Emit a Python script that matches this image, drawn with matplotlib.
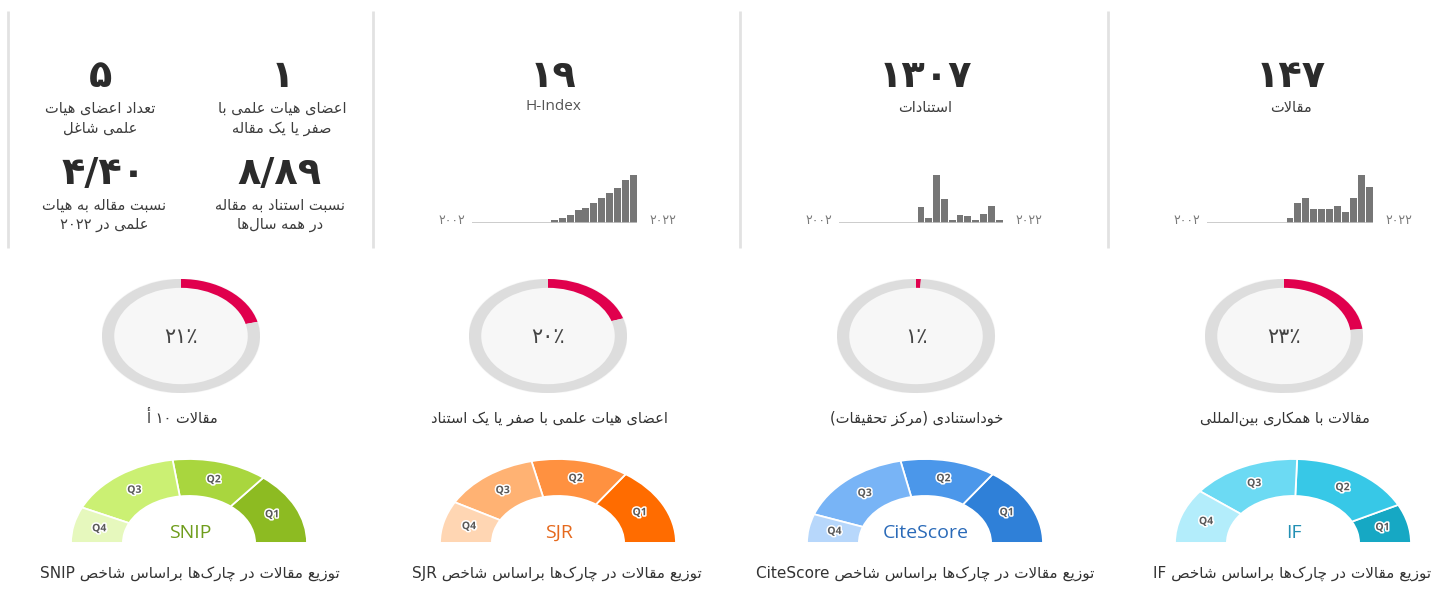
import matplotlib
matplotlib.use('Agg')
import matplotlib.pyplot as plt
import matplotlib.patheffects as pe
from matplotlib.patches import Ellipse
import numpy as np

W, H = 1455, 596
DPI = 100

# ---------------- data ----------------
years = list(range(2002, 2023))
articles_per_year = [0] * 10 + [3, 13, 16, 9, 9, 9, 11, 7, 16, 31, 23]
citations_per_year = [0] * 10 + [146, 46, 441, 222, 30, 76, 61, 24, 85, 152, 24]
hindex_per_year = [0] * 10 + [1, 2, 3, 5, 6, 8, 10, 12, 14, 17, 19]

kpi_values = [19, 1307, 147]
kpi_labels = ['H-Index', 'استنادات', 'مقالات']

faculty_values = [5, 1, 4.40, 8.89]
faculty_labels = ['تعداد اعضای هیات\nعلمی شاغل',
                  'اعضای هیات علمی با\nصفر یا یک مقاله',
                  'نسبت مقاله به هیات\nعلمی در ۲۰۲۲',
                  'نسبت استناد به مقاله\nدر همه سال‌ها']

donut_pcts = [21, 20, 1, 23]
donut_labels = ['مقالات ۱۰ أ',
                'اعضای هیات علمی با صفر یا یک استناد',
                'خوداستنادی (مرکز تحقیقات)',
                'مقالات با همکاری بین‌المللی']

quartile_names = ['Q1', 'Q2', 'Q3', 'Q4']
snip_q = [51, 47, 57, 25]
sjr_q = [55, 48, 48, 29]
citescore_q = [55, 47, 58, 20]
if_q = [27, 61, 54, 38]
index_names = ['SNIP', 'SJR', 'CiteScore', 'IF']
dist_title = 'توزیع مقالات در چارک‌ها براساس شاخص '

# ---------------- Persian shaping / bidi ----------------
FORMS = {
    'ء': ('\uFE80', None, None, None),
    'آ': ('\uFE81', '\uFE82', None, None),
    'أ': ('\uFE83', '\uFE84', None, None),
    'ؤ': ('\uFE85', '\uFE86', None, None),
    'إ': ('\uFE87', '\uFE88', None, None),
    'ئ': ('\uFE89', '\uFE8A', '\uFE8B', '\uFE8C'),
    'ا': ('\uFE8D', '\uFE8E', None, None),
    'ب': ('\uFE8F', '\uFE90', '\uFE91', '\uFE92'),
    'ة': ('\uFE93', '\uFE94', None, None),
    'ت': ('\uFE95', '\uFE96', '\uFE97', '\uFE98'),
    'ث': ('\uFE99', '\uFE9A', '\uFE9B', '\uFE9C'),
    'ج': ('\uFE9D', '\uFE9E', '\uFE9F', '\uFEA0'),
    'ح': ('\uFEA1', '\uFEA2', '\uFEA3', '\uFEA4'),
    'خ': ('\uFEA5', '\uFEA6', '\uFEA7', '\uFEA8'),
    'د': ('\uFEA9', '\uFEAA', None, None),
    'ذ': ('\uFEAB', '\uFEAC', None, None),
    'ر': ('\uFEAD', '\uFEAE', None, None),
    'ز': ('\uFEAF', '\uFEB0', None, None),
    'س': ('\uFEB1', '\uFEB2', '\uFEB3', '\uFEB4'),
    'ش': ('\uFEB5', '\uFEB6', '\uFEB7', '\uFEB8'),
    'ص': ('\uFEB9', '\uFEBA', '\uFEBB', '\uFEBC'),
    'ض': ('\uFEBD', '\uFEBE', '\uFEBF', '\uFEC0'),
    'ط': ('\uFEC1', '\uFEC2', '\uFEC3', '\uFEC4'),
    'ظ': ('\uFEC5', '\uFEC6', '\uFEC7', '\uFEC8'),
    'ع': ('\uFEC9', '\uFECA', '\uFECB', '\uFECC'),
    'غ': ('\uFECD', '\uFECE', '\uFECF', '\uFED0'),
    'ف': ('\uFED1', '\uFED2', '\uFED3', '\uFED4'),
    'ق': ('\uFED5', '\uFED6', '\uFED7', '\uFED8'),
    'ك': ('\uFED9', '\uFEDA', '\uFEDB', '\uFEDC'),
    'ل': ('\uFEDD', '\uFEDE', '\uFEDF', '\uFEE0'),
    'م': ('\uFEE1', '\uFEE2', '\uFEE3', '\uFEE4'),
    'ن': ('\uFEE5', '\uFEE6', '\uFEE7', '\uFEE8'),
    'ه': ('\uFEE9', '\uFEEA', '\uFEEB', '\uFEEC'),
    'و': ('\uFEED', '\uFEEE', None, None),
    'ى': ('\uFEEF', '\uFEF0', None, None),
    'ي': ('\uFEF1', '\uFEF2', '\uFEF3', '\uFEF4'),
    'پ': ('\uFB56', '\uFB57', '\uFB58', '\uFB59'),
    'چ': ('\uFB7A', '\uFB7B', '\uFB7C', '\uFB7D'),
    'ژ': ('\uFB8A', '\uFB8B', None, None),
    'ک': ('\uFB8E', '\uFB8F', '\uFB90', '\uFB91'),
    'گ': ('\uFB92', '\uFB93', '\uFB94', '\uFB95'),
    'ی': ('\uFBFC', '\uFBFD', '\uFBFE', '\uFBFF'),
}
LAM_ALEF = {'آ': ('\uFEF5', '\uFEF6'), 'أ': ('\uFEF7', '\uFEF8'),
            'إ': ('\uFEF9', '\uFEFA'), 'ا': ('\uFEFB', '\uFEFC')}
MIRROR = {'(': ')', ')': '('}
FA_DIGITS = str.maketrans('0123456789.', '۰۱۲۳۴۵۶۷۸۹/')


def _dual(c):
    return c in FORMS and FORMS[c][2] is not None


def _shape(s):
    out = []
    i, n = 0, len(s)
    while i < n:
        c = s[i]
        if c not in FORMS:
            if c != '\u200c':
                out.append(c)
            i += 1
            continue
        jp = i > 0 and _dual(s[i - 1])
        if c == 'ل' and i + 1 < n and s[i + 1] in LAM_ALEF:
            iso, fin = LAM_ALEF[s[i + 1]]
            out.append(fin if jp else iso)
            i += 2
            continue
        jn = _dual(c) and i + 1 < n and s[i + 1] in FORMS
        iso, fin, ini, med = FORMS[c]
        out.append(med if (jp and jn) else fin if jp else ini if jn else iso)
        i += 1
    return ''.join(out)


def _is_ltr(ch):
    return (ch.isascii() and ch.isalnum()) or ('\u06F0' <= ch <= '\u06F9') or ch in '٫٪/'


def fa(line):
    if not any(c in FORMS for c in line):
        return line
    s = _shape(line)
    toks, cur, cur_ltr = [], '', None
    for ch in s:
        l = _is_ltr(ch)
        if cur and l != cur_ltr:
            toks.append((cur, cur_ltr))
            cur = ''
        cur += ch
        cur_ltr = l
    if cur:
        toks.append((cur, cur_ltr))
    vis = ''
    for tok, l in reversed(toks):
        vis += tok if l else ''.join(MIRROR.get(c, c) for c in reversed(tok))
    return vis


def fa_num(v):
    return str(v).translate(FA_DIGITS)


FA_FONT = ['DejaVu Sans']
LAT_FONT = ['Open Sans', 'DejaVu Sans']
NUM_SIZE = 27.5
LAB_SIZE = 10.5

# ---------------- figure ----------------
fig = plt.figure(figsize=(W / DPI, H / DPI), dpi=DPI)
fig.patch.set_facecolor('white')
bg = fig.add_axes([0, 0, 1, 1])
bg.set_xlim(0, W)
bg.set_ylim(H, 0)
bg.axis('off')
bg.set_zorder(5)
bg.patch.set_alpha(0)


def px_axes(x0, y0, x1, y1):
    return fig.add_axes([x0 / W, 1 - y1 / H, (x1 - x0) / W, (y1 - y0) / H])


def lines_text(x, y, text, dy, **kw):
    for k, ln in enumerate(text.split('\n')):
        bg.text(x, y + k * dy, fa(ln), ha='center', va='center', **kw)


# panel separators
for xs in [8, 373, 740, 1108]:
    bg.plot([xs, xs], [11, 248], color='#e2e2e2', lw=2, solid_capstyle='butt')

# ---------------- top-left faculty block ----------------
fac_pos = [(100, 77), (282, 77), (104, 174), (280, 174)]
for (x, y), v, lab in zip(fac_pos, faculty_values, faculty_labels):
    txt = fa_num(f'{v:.2f}') if isinstance(v, float) else fa_num(v)
    bg.text(x, y, txt, ha='center', va='center', fontsize=NUM_SIZE, fontweight='bold',
            color='#2b2b2b', family=FA_FONT)
    lines_text(x, y + 31, lab, 20, fontsize=LAB_SIZE, color='#3d3d3d', family=FA_FONT)

# ---------------- KPI + sparklines ----------------
kpi_cx = [553, 925, 1291]
spark_x = [(472, 637), (839, 1003), (1207, 1373)]
spark_data = [hindex_per_year, citations_per_year, articles_per_year]
for cx, v, lab, (x0, x1), data in zip(kpi_cx, kpi_values, kpi_labels, spark_x, spark_data):
    bg.text(cx, 77, fa_num(v), ha='center', va='center', fontsize=NUM_SIZE,
            fontweight='bold', color='#2b2b2b', family=FA_FONT)
    if lab.isascii():
        bg.text(cx, 107, lab, ha='center', va='center', fontsize=11,
                color='#555555', family=LAT_FONT)
    else:
        bg.text(cx, 108, fa(lab), ha='center', va='center', fontsize=LAB_SIZE,
                color='#3d3d3d', family=FA_FONT)
    ax = px_axes(x0, 175, x1, 223)
    ax.bar(years, data, width=0.88, color='#767676')
    ax.set_xlim(years[0] - 0.5, years[-1] + 0.5)
    ax.set_ylim(0, max(data))
    ax.axhline(0, color='#c4c4c4', lw=1.2)
    ax.axis('off')
    bg.text(x0 - 20, 220, fa_num(years[0]), ha='center', va='center',
            fontsize=9, color='#7a7a7a', family=FA_FONT)
    bg.text(x1 + 26, 220, fa_num(years[-1]), ha='center', va='center',
            fontsize=9, color='#7a7a7a', family=FA_FONT)

# ---------------- donuts ----------------
donut_cx = [181, 548, 916, 1284]
dcy, drx, dry = 336, 79, 57
for cx, p, lab in zip(donut_cx, donut_pcts, donut_labels):
    ax = px_axes(cx - drx, dcy - dry, cx + drx, dcy + dry)
    ax.add_patch(Ellipse((0, 0), 2, 2, color='#f7f7f7', zorder=0))
    ax.pie([p, 100 - p], colors=['#e0004d', '#dddddd'], startangle=90,
           counterclock=False, radius=1, wedgeprops=dict(width=0.155, linewidth=0))
    ax.set_aspect('auto')
    ax.set_xlim(-1, 1)
    ax.set_ylim(-1, 1)
    ax.axis('off')
    bg.text(cx, dcy + 1, fa_num(p) + '٪', ha='center', va='center', fontsize=15,
            color='#444444', family=FA_FONT)
    bg.text(cx + 1, 418, fa(lab), ha='center', va='center', fontsize=LAB_SIZE,
            color='#333333', family=FA_FONT)

# ---------------- half donuts ----------------
half_cx = [189, 558, 925, 1293]
hcy, hrx, hry = 543, 118, 84
q_data = [snip_q, sjr_q, citescore_q, if_q]
q_colors = [
    ['#8dbb22', '#a9d63e', '#cbf073', '#e6f8bd'],
    ['#ff6c00', '#ff9140', '#ffb273', '#ffd6b3'],
    ['#2f80d8', '#4b97ea', '#78b4f6', '#b7d7fb'],
    ['#16a8c4', '#37c8e7', '#6cdaf3', '#b3edfb'],
]
name_colors = ['#6f9d1c', '#e5691d', '#2a6ab8', '#2390b4']
label_x = [190, 557, 925, 1292]
for cx, q, cols, name, ncol, lx in zip(half_cx, q_data, q_colors, index_names,
                                       name_colors, label_x):
    ax = px_axes(cx - hrx, hcy - hry, cx + hrx, hcy)
    total = sum(q)
    _, texts = ax.pie(q + [total], colors=cols + ['none'], startangle=0,
                      counterclock=True, radius=1, labels=quartile_names + [''],
                      labeldistance=0.78,
                      wedgeprops=dict(width=0.44, edgecolor='white', linewidth=1.3))
    for t in texts:
        t.set_ha('center')
        t.set_va('center')
        t.set_fontsize(7.5)
        t.set_fontweight('bold')
        t.set_color('#5a5a5a')
        t.set_family(LAT_FONT)
        t.set_path_effects([pe.withStroke(linewidth=2.2, foreground='white')])
    ax.set_aspect('auto')
    ax.set_xlim(-1, 1)
    ax.set_ylim(0, 1)
    ax.axis('off')
    bg.text(cx + 1, 533, name, ha='center', va='center', fontsize=14,
            color=ncol, family=LAT_FONT)
    bg.text(lx, 573, fa(dist_title + name), ha='center', va='center', fontsize=11,
            color='#333333', family=FA_FONT)

fig.savefig('out.png', dpi=DPI, facecolor='white')
